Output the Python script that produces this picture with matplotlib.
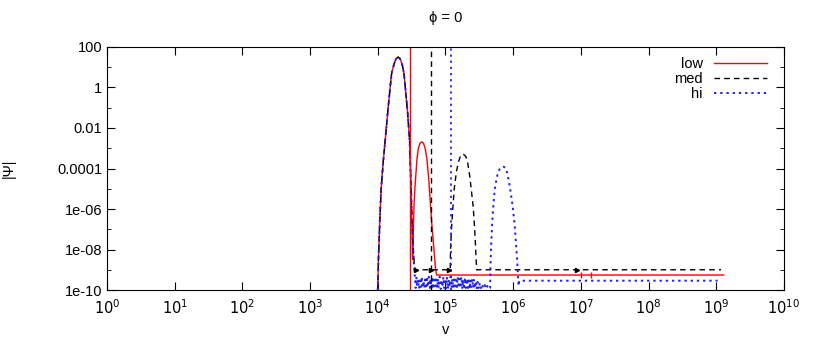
import numpy as np
import matplotlib.pyplot as plt

plt.rcParams['font.family'] = ['Liberation Sans', 'DejaVu Sans']

# log10(v), log10(|Psi|)
peak_x = [4.00, 4.01, 4.02, 4.035, 4.05, 4.08, 4.11, 4.145, 4.18, 4.205, 4.24, 4.27,
          4.30, 4.33, 4.36, 4.387, 4.41, 4.44, 4.47]
peak_y = [-10.0, -8.5, -7.5, -6.2, -5.0, -3.7, -2.6, -1.3, -0.1, 0.7, 1.15, 1.42,
          1.5, 1.42, 1.15, 0.7, -0.1, -1.2, -2.6]

low_x = peak_x + [4.49, 4.505, 4.515, 4.525, 4.535, 4.55, 4.565, 4.58, 4.60, 4.625,
                  4.65, 4.675, 4.70, 4.725, 4.745, 4.765, 4.78, 4.80, 4.82, 4.84,
                  4.855, 4.87, 9.11]
low_y = peak_y + [-4.8, -6.8, -8.5, -7.2, -5.9, -4.9, -4.2, -3.5, -3.0, -2.75,
                  -2.68, -2.75, -3.0, -3.5, -4.2, -5.1, -5.9, -6.8, -7.6, -8.4,
                  -9.0, -9.26, -9.26]
low_vline = 4.475
low_marks_x = [7.0, 7.15]
low_marks_y = [-9.26, -9.26]

med_x = peak_x + [4.49, 4.505, 4.52, 4.54, 4.555, 4.57, 5.07, 5.075, 5.085, 5.11,
                  5.13, 5.16, 5.19, 5.22, 5.26, 5.30, 5.33, 5.36, 5.39, 5.41,
                  5.43, 5.445, 5.46, 9.07]
med_y = peak_y + [-4.8, -6.4, -7.8, -8.7, -9.0, -9.0, -9.0, -8.0, -7.2, -5.9,
                  -5.0, -4.2, -3.7, -3.4, -3.28, -3.4, -3.75, -4.4, -5.3, -5.9,
                  -6.9, -7.9, -9.0, -9.0]
med_vline = 4.78
med_marks_x = [4.57, 4.78, 5.05, 6.95]
med_marks_y = [-9.0, -9.0, -9.0, -9.0]

hi_noise_x = [4.55, 4.56, 4.57, 4.58, 4.595, 4.61, 4.62, 4.635, 4.65, 4.66, 4.675,
              4.69, 4.70, 4.715, 4.73, 4.74, 4.755, 4.77, 4.78, 4.795, 4.81, 4.82,
              4.835, 4.85, 4.86, 4.875, 4.89, 4.90, 4.915, 4.93, 4.94, 4.955, 4.97,
              4.98, 4.995, 5.01, 5.02, 5.035, 5.05, 5.06, 5.075, 5.09, 5.10, 5.115,
              5.13, 5.14, 5.155, 5.17, 5.18, 5.195, 5.21, 5.22, 5.235, 5.25, 5.26,
              5.275, 5.29, 5.30, 5.315, 5.33, 5.34, 5.355, 5.37, 5.38, 5.395, 5.41,
              5.42, 5.435, 5.45, 5.46, 5.475, 5.49, 5.50, 5.52, 5.54, 5.56, 5.58,
              5.60, 5.62, 5.64, 5.66]
hi_noise_y = [-9.4, -9.9, -9.35, -9.8, -9.5, -9.95, -9.4, -9.85, -9.35, -9.9, -9.55,
              -9.9, -9.35, -9.95, -9.45, -9.85, -9.35, -9.9, -9.45, -9.9, -9.35, -9.95,
              -9.5, -9.8, -9.35, -9.9, -9.45, -9.9, -9.35, -9.95, -9.5, -9.85, -9.35,
              -9.9, -9.45, -9.9, -9.35, -9.95, -9.5, -9.85, -9.35, -9.9, -9.45, -9.9,
              -9.35, -9.95, -9.5, -9.85, -9.35, -9.9, -9.45, -9.9, -9.35, -9.95, -9.5,
              -9.85, -9.4, -9.9, -9.45, -9.9, -9.4, -9.95, -9.5, -9.85, -9.45, -9.9,
              -9.5, -9.9, -9.55, -9.95, -9.6, -9.9, -9.65, -9.95, -9.7, -9.9, -9.75,
              -9.95, -9.8, -9.95, -9.9]
hi_x = peak_x + [4.49, 4.505, 4.52, 4.54] + hi_noise_x + [5.665, 5.675, 5.69, 5.71,
                 5.73, 5.755, 5.78, 5.815, 5.85, 5.885, 5.91, 5.935, 5.96, 5.99,
                 6.02, 6.04, 6.06, 6.08, 6.09, 9.02]
hi_y = peak_y + [-4.8, -6.4, -7.8, -9.0] + hi_noise_y + [-8.8, -7.8, -6.7, -5.7,
                 -5.0, -4.5, -4.15, -3.95, -3.91, -3.95, -4.2, -4.6, -5.1, -5.8,
                 -6.7, -7.6, -8.6, -9.8, -9.54, -9.54]
hi_vline = 5.08

fig = plt.figure(figsize=(8.14, 3.42), dpi=100)
ax = fig.add_axes([0.1314, 0.152, 0.8317, 0.7106])

ax.plot(10**np.array(low_x), 10**np.array(low_y), color='red', lw=1, label='low')
ax.plot(10**np.array(med_x), 10**np.array(med_y), color='black', lw=1,
        dashes=(4, 3), label='med')
ax.plot(10**np.array(hi_x), 10**np.array(hi_y), color='#2020ff', lw=1.4,
        dashes=(1.2, 2.0), label='hi')

ax.axvline(10**low_vline, color='red', lw=1)
ax.axvline(10**med_vline, color='black', lw=1, dashes=(4, 3))
ax.axvline(10**hi_vline, color='#2020ff', lw=1.3, dashes=(1.2, 2.2))

ax.plot(10**np.array(low_marks_x), 10**np.array(low_marks_y), '|', color='red', ms=5)
ax.plot(10**np.array(med_marks_x), 10**np.array(med_marks_y), '>', color='black', ms=3)

ax.set_xscale('log')
ax.set_yscale('log')
ax.set_xlim(1, 1e10)
ax.set_ylim(1e-10, 100)

ax.set_xticks([10.0**k for k in range(11)])
ax.set_xticklabels([r'$10^{%d}$' % k for k in range(11)])
ax.xaxis.set_minor_locator(plt.NullLocator())
ylabels = ['1e-10', '1e-08', '1e-06', '0.0001', '0.01', '1', '100']
ax.set_yticks([10.0**k for k in range(-10, 3, 2)])
ax.set_yticklabels(ylabels)
ax.set_yticks([10.0**k for k in range(-9, 2, 2)], minor=True)
ax.yaxis.set_minor_formatter(plt.NullFormatter())

ax.tick_params(which='both', direction='in', top=True, right=True, labelsize=10.5)
ax.tick_params(which='major', length=6)
ax.tick_params(which='minor', length=3)
ax.tick_params(axis='x', pad=6)

ax.set_xlabel('v', fontsize=10.5)
ax.set_ylabel('|Ψ|', fontsize=10.5, labelpad=30)
ax.set_title('ϕ = 0', fontsize=10.5, pad=18)

leg = ax.legend(loc='upper right', frameon=False, fontsize=10.5, markerfirst=False,
                handlelength=3.6, handletextpad=0.8, labelspacing=0.05,
                borderaxespad=0.3, bbox_to_anchor=(0.99, 1.0))
for t in leg.get_texts():
    t.set_ha('right')

fig.savefig('out.png', dpi=100)
